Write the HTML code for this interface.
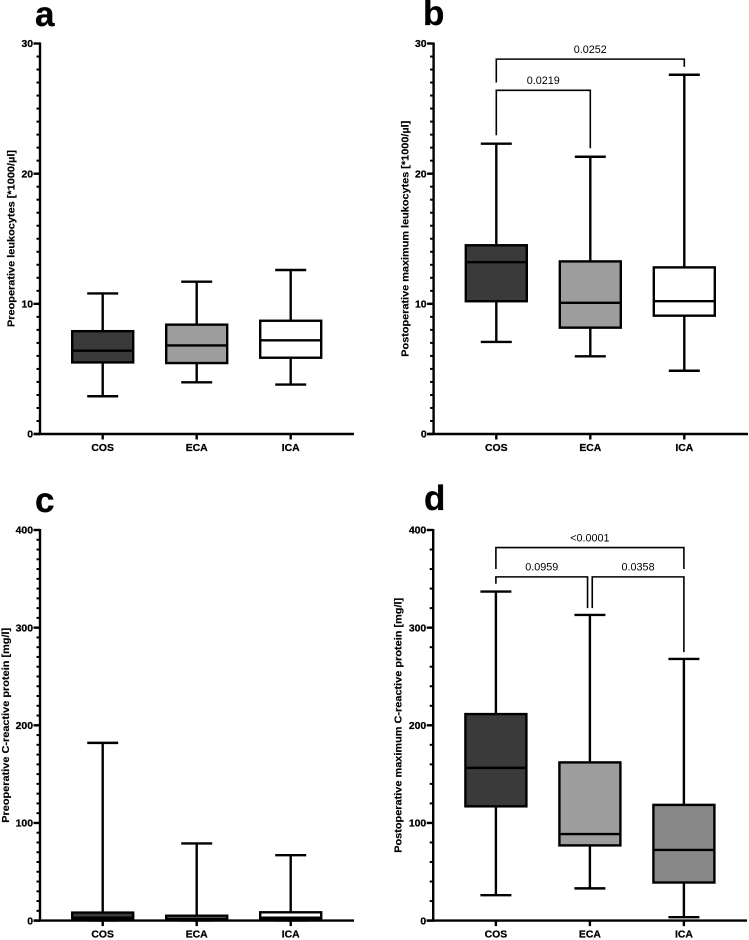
<!DOCTYPE html>
<html lang="en">
<head>
<meta charset="utf-8">
<title>Leukocytes and C-reactive protein box plots</title>
<style>
html,body{margin:0;padding:0;background:#fff;width:749px;height:940px;overflow:hidden}
svg{display:block;font-family:"Liberation Sans",Arial,sans-serif}
.tick{font-size:10.4px;font-weight:700;fill:#000;stroke:#000;stroke-width:.25px}
.title{font-size:10.3px;font-weight:700;fill:#000;stroke:#000;stroke-width:.15px}
.pval{font-size:10.8px;fill:#000}
.letter{font-size:35px;font-weight:700;fill:#000;stroke:#000;stroke-width:.3px}
</style>
</head>
<body>
<svg id="figure" xmlns="http://www.w3.org/2000/svg" width="749" height="940" viewBox="0 0 749 940">
  <rect x="0" y="0" width="749" height="940" fill="#fff"/>
  <text class="letter" x="35" y="26">a</text>
  <text class="letter" x="423" y="25">b</text>
  <text class="letter" x="35" y="512">c</text>
  <text class="letter" x="424" y="510">d</text>
  <g id="panel-a"></g>
  <g id="panel-b"></g>
  <g id="panel-c"></g>
  <g id="panel-d"></g>
</svg>
<script>
// Shared categories and tick labels
const categories = ['COS', 'ECA', 'ICA'];
const leukocyteTicks = [0, 10, 20, 30];
const crpTicks = [0, 100, 200, 300, 400];

// Panel a: preoperative leukocytes
const aMax = [10.8, 11.7, 12.6];
const aQ3 = [7.9, 8.4, 8.7];
const aMedian = [6.4, 6.8, 7.2];
const aQ1 = [5.5, 5.45, 5.86];
const aMin = [2.9, 3.97, 3.8];

// Panel b: postoperative maximum leukocytes
const bMax = [22.3, 21.3, 27.6];
const bQ3 = [14.5, 13.26, 12.8];
const bMedian = [13.2, 10.08, 10.2];
const bQ1 = [10.2, 8.17, 9.09];
const bMin = [7.07, 5.97, 4.86];

// Panel c: preoperative CRP
const cMax = [182, 79, 67];
const cQ3 = [8.2, 5, 8.5];
const cMedian = [3, 2, 3];
const cQ1 = [1, 0.5, 1];
const cMin = [0.2, 0.2, 0.2];

// Panel d: postoperative maximum CRP
const dMax = [337, 313, 268];
const dQ3 = [211.5, 162, 118.5];
const dMedian = [156.4, 88.6, 72.4];
const dQ1 = [117, 77, 39];
const dMin = [26, 33, 3.5];

// Significance brackets: label, from/to category index, bracket level, left and right foot ends
const bBracketLabels = ['0.0252', '0.0219'];
const bBracketFrom = [0, 0];
const bBracketTo = [2, 1];
const bBracketLevel = [28.8, 26.4];
const bBracketFootLeft = [27.0, 22.95];
const bBracketFootRight = [28.2, 21.95];

const dBracketLabels = ['<0.0001', '0.0959', '0.0358'];
const dBracketFrom = [0, 0, 1.025];
const dBracketTo = [2, 0.975, 2];
const dBracketLevel = [382, 352, 352];
const dBracketFootLeft = [360, 345, 320];
const dBracketFootRight = [360, 320, 275];

const SVG_NS = 'http://www.w3.org/2000/svg';
const LINE_W = 2.4;

function makeEl(parent, tag, attrs, text) {
  const el = document.createElementNS(SVG_NS, tag);
  for (const k in attrs) el.setAttribute(k, attrs[k]);
  if (text !== undefined) el.textContent = text;
  parent.appendChild(el);
  return el;
}

function drawPanel(cfg) {
  const g = document.getElementById(cfg.id);
  const domainMax = cfg.ticks[cfg.ticks.length - 1];
  const yScale = function (v) { return cfg.bottom - (v / domainMax) * (cfg.bottom - cfg.top); };
  const xScale = function (i) { return cfg.left + 62.7 + 94 * i; };

  // y axis line
  const yAxis = makeEl(g, 'line', { x1: cfg.left, x2: cfg.left, y1: cfg.top - 1, y2: cfg.bottom + 1, stroke: '#000', 'stroke-width': LINE_W });
  
  

  // minor ticks
  for (let v = 0; v <= domainMax + 1e-9; v += cfg.minorStep) {
    const minor = makeEl(g, 'line', { x1: cfg.left - 3.5, x2: cfg.left, y1: yScale(v), y2: yScale(v), stroke: '#000', 'stroke-width': 2 });
    
    
  }

  // major ticks and labels
  cfg.ticks.forEach(function (t) {
    const major = makeEl(g, 'line', { x1: cfg.left - 6.5, x2: cfg.left, y1: yScale(t), y2: yScale(t), stroke: '#000', 'stroke-width': LINE_W });
    
    
    const label = makeEl(g, 'text', { x: cfg.left - 7, y: yScale(t) + 3.7, 'text-anchor': 'end', class: 'tick' }, String(t));
    
    
  });

  // y title
  const title = makeEl(g, 'text', {
    class: 'title', 'text-anchor': 'middle',
    transform: 'translate(' + cfg.titleX + ',' + cfg.titleY + ') rotate(-90)',
    textLength: cfg.titleLength, lengthAdjust: 'spacingAndGlyphs'
  }, cfg.title);
  
  

  // boxes and whiskers
  categories.forEach(function (cat, i) {
    const x = xScale(i);
    const box = makeEl(g, 'g', {});
    
    

    const whisker = makeEl(box, 'line', { x1: x, x2: x, y1: yScale(cfg.max[i]), y2: yScale(cfg.min[i]), stroke: '#000', 'stroke-width': LINE_W });
    
    

    const capTop = makeEl(box, 'line', { x1: x - 15.5, x2: x + 15.5, y1: yScale(cfg.max[i]), y2: yScale(cfg.max[i]), stroke: '#000', 'stroke-width': LINE_W });
    
    

    const capLow = makeEl(box, 'line', { x1: x - 15.5, x2: x + 15.5, y1: yScale(cfg.min[i]), y2: yScale(cfg.min[i]), stroke: '#000', 'stroke-width': LINE_W });
    
    

    const rect = makeEl(box, 'rect', {
      x: x - 30.5, width: 61,
      y: yScale(cfg.q3[i]), height: yScale(cfg.q1[i]) - yScale(cfg.q3[i]),
      fill: cfg.fills[i], stroke: '#000', 'stroke-width': LINE_W
    });
    
    

    const median = makeEl(box, 'line', { x1: x - 30.5, x2: x + 30.5, y1: yScale(cfg.median[i]), y2: yScale(cfg.median[i]), stroke: '#000', 'stroke-width': LINE_W });
    
    
  });

  // x axis
  const xAxis = makeEl(g, 'line', { x1: cfg.left - 6.5, x2: cfg.right, y1: cfg.bottom, y2: cfg.bottom, stroke: '#000', 'stroke-width': LINE_W });
  
  

  categories.forEach(function (cat, i) {
    const x = xScale(i);
    const tick = makeEl(g, 'line', { x1: x, x2: x, y1: cfg.bottom, y2: cfg.bottom + 5.5, stroke: '#000', 'stroke-width': LINE_W });
    
    
    const label = makeEl(g, 'text', { x: x, y: cfg.bottom + 17, 'text-anchor': 'middle', class: 'tick' }, cat);
    
    
  });

  // significance brackets
  (cfg.bracketLabels || []).forEach(function (txt, i) {
    const x1 = xScale(cfg.bracketFrom[i]);
    const x2 = xScale(cfg.bracketTo[i]);
    const level = yScale(cfg.bracketLevel[i]);
    const d = 'M' + x1 + ' ' + yScale(cfg.bracketFootLeft[i]) + 'V' + level + 'H' + x2 + 'V' + yScale(cfg.bracketFootRight[i]);
    const path = makeEl(g, 'path', { d: d, fill: 'none', stroke: '#000', 'stroke-width': 1.6 });
    
    
    const label = makeEl(g, 'text', { x: (x1 + x2) / 2, y: level - 6.3, 'text-anchor': 'middle', class: 'pval' }, txt);
    
    
  });
}

drawPanel({
  id: 'panel-a', left: 40, right: 354, top: 43.5, bottom: 434,
  ticks: leukocyteTicks, minorStep: 1,
  title: 'Preoperative leukocytes [*1000/µl]', titleX: 14.5, titleY: 238.5, titleLength: 177,
  max: aMax, q3: aQ3, median: aMedian, q1: aQ1, min: aMin,
  fills: ['#3a3a3a', '#9d9d9d', '#ffffff']
});

drawPanel({
  id: 'panel-b', left: 433.6, right: 748, top: 43.5, bottom: 434,
  ticks: leukocyteTicks, minorStep: 1,
  title: 'Postoperative maximum leukocytes [*1000/µl]', titleX: 408.5, titleY: 238.7, titleLength: 236,
  max: bMax, q3: bQ3, median: bMedian, q1: bQ1, min: bMin,
  fills: ['#3a3a3a', '#9d9d9d', '#ffffff'],
  bracketLabels: bBracketLabels, bracketFrom: bBracketFrom, bracketTo: bBracketTo,
  bracketLevel: bBracketLevel, bracketFootLeft: bBracketFootLeft, bracketFootRight: bBracketFootRight
});

drawPanel({
  id: 'panel-c', left: 40, right: 354, top: 530, bottom: 920.6,
  ticks: crpTicks, minorStep: 10,
  title: 'Preoperative C-reactive protein [mg/l]', titleX: 9, titleY: 725.3, titleLength: 195,
  max: cMax, q3: cQ3, median: cMedian, q1: cQ1, min: cMin,
  fills: ['#3a3a3a', '#9d9d9d', '#ffffff']
});

drawPanel({
  id: 'panel-d', left: 433.2, right: 747, top: 530, bottom: 920.6,
  ticks: crpTicks, minorStep: 20,
  title: 'Postoperative maximum C-reactive protein [mg/l]', titleX: 401.5, titleY: 725.3, titleLength: 255,
  max: dMax, q3: dQ3, median: dMedian, q1: dQ1, min: dMin,
  fills: ['#3a3a3a', '#9d9d9d', '#888888'],
  bracketLabels: dBracketLabels, bracketFrom: dBracketFrom, bracketTo: dBracketTo,
  bracketLevel: dBracketLevel, bracketFootLeft: dBracketFootLeft, bracketFootRight: dBracketFootRight
});
</script>
</body>
</html>
